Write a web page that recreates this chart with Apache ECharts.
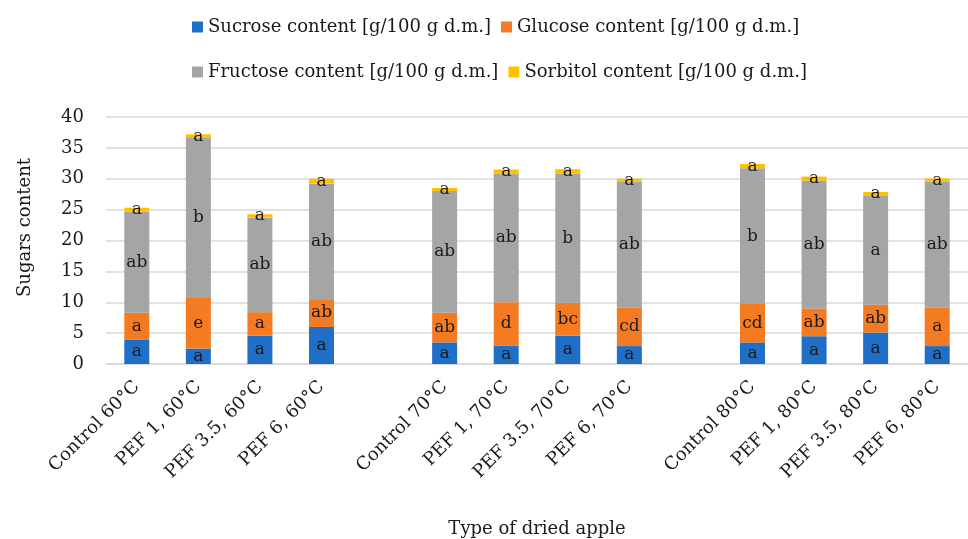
<!DOCTYPE html>
<html>
<head>
<meta charset="utf-8">
<title>Sugars content of dried apple</title>
<script src="https://cdn.jsdelivr.net/npm/echarts@6/dist/echarts.min.js"></script>
<style>
  html, body { margin: 0; padding: 0; background: #ffffff; }
  #chart { width: 968px; height: 539px; }
</style>
</head>
<body>
<div id="chart"></div>
<script>
// Treatments; blank slots separate the 60, 70 and 80 °C groups
var categories = [
  'Control 60\u00b0C', 'PEF 1, 60\u00b0C', 'PEF 3.5, 60\u00b0C', 'PEF 6, 60\u00b0C', ' ',
  'Control 70\u00b0C', 'PEF 1, 70\u00b0C', 'PEF 3.5, 70\u00b0C', 'PEF 6, 70\u00b0C', '  ',
  'Control 80\u00b0C', 'PEF 1, 80\u00b0C', 'PEF 3.5, 80\u00b0C', 'PEF 6, 80\u00b0C'
];

// Sugar contents [g/100 g d.m.]
var sucrose  = [3.9, 2.5, 4.6, 6.0, null, 3.5, 3.0, 4.6, 2.9, null, 3.5, 4.5, 5.1, 2.9];
var glucose  = [4.4, 8.2, 3.8, 4.5, null, 4.8, 7.0, 5.3, 6.2, null, 6.2, 4.5, 4.5, 6.2];
var fructose = [16.4, 25.9, 15.3, 18.7, null, 19.7, 20.8, 20.9, 20.4, null, 22.0, 20.7, 17.6, 20.4];
var sorbitol = [0.6, 0.6, 0.55, 0.8, null, 0.5, 0.7, 0.75, 0.5, null, 0.7, 0.65, 0.65, 0.55];

// Homogeneous groups (significance letters)
var sucroseLetters  = ['a', 'a', 'a', 'a', '', 'a', 'a', 'a', 'a', '', 'a', 'a', 'a', 'a'];
var glucoseLetters  = ['a', 'e', 'a', 'ab', '', 'ab', 'd', 'bc', 'cd', '', 'cd', 'ab', 'ab', 'a'];
var fructoseLetters = ['ab', 'b', 'ab', 'ab', '', 'ab', 'ab', 'b', 'ab', '', 'b', 'ab', 'a', 'ab'];
var sorbitolLetters = ['a', 'a', 'a', 'a', '', 'a', 'a', 'a', 'a', '', 'a', 'a', 'a', 'a'];

var seriesNames = [
  'Sucrose content [g/100 g d.m.]',
  'Glucose content [g/100 g d.m.]',
  'Fructose content [g/100 g d.m.]',
  'Sorbitol content [g/100 g d.m.]'
];

var FONT = 'DejaVu Serif';
var TEXT = '#1a1a1a';
var SIZE = 18;

function stackedBar(name, values, letters, color, offsetY) {
  return {
    name: name,
    type: 'bar',
    stack: 'sugars',
    barWidth: 25,
    data: values,
    itemStyle: { color: color },
    label: {
      show: true,
      position: 'inside',
      offset: [0, offsetY],
      color: TEXT,
      fontFamily: FONT,
      fontSize: 17,
      formatter: function (p) { return letters[p.dataIndex] || ''; }
    },
    labelLayout: { hideOverlap: false }
  };
}

var chart = echarts.init(document.getElementById('chart'), null, { renderer: 'canvas' });

var legendCommon = {
  left: 187,
  orient: 'horizontal',
  icon: 'rect',
  itemWidth: 11,
  itemHeight: 11,
  itemGap: 10,
  itemStyle: { borderWidth: 0 },
  textStyle: { fontFamily: FONT, fontSize: SIZE, color: TEXT },
  selectedMode: false
};

chart.setOption({
  animation: false,
  backgroundColor: '#ffffff',
  textStyle: { fontFamily: FONT },
  legend: [
    Object.assign({}, legendCommon, { top: 13, data: [seriesNames[0], seriesNames[1]] }),
    Object.assign({}, legendCommon, { top: 58, data: [seriesNames[2], seriesNames[3]] })
  ],
  grid: { left: 106, top: 117, width: 864, height: 248, containLabel: false },
  xAxis: {
    type: 'category',
    data: categories,
    name: 'Type of dried apple',
    nameLocation: 'middle',
    nameGap: 156,
    nameTextStyle: { fontFamily: FONT, fontSize: SIZE, color: TEXT },
    axisLine: { lineStyle: { color: '#d9d9d9', width: 1.5 } },
    axisTick: { show: false },
    axisLabel: {
      interval: 0,
      rotate: 45,
      margin: 20,
      fontFamily: FONT,
      fontSize: SIZE,
      color: TEXT
    }
  },
  yAxis: {
    type: 'value',
    min: 0,
    max: 40,
    interval: 5,
    name: 'Sugars content',
    nameLocation: 'middle',
    nameGap: 72,
    nameTextStyle: { fontFamily: FONT, fontSize: SIZE, color: TEXT, padding: [0, 0, 0, 26] },
    axisLine: { show: false },
    axisTick: { show: false },
    axisLabel: { margin: 22, fontFamily: FONT, fontSize: SIZE, color: TEXT },
    splitLine: { lineStyle: { color: '#d9d9d9', width: 1.5 } }
  },
  series: [
    stackedBar(seriesNames[0], sucrose, sucroseLetters, '#1f6fc6', 0),
    stackedBar(seriesNames[1], glucose, glucoseLetters, '#f47b22', 0),
    stackedBar(seriesNames[2], fructose, fructoseLetters, '#a5a5a5', 3),
    stackedBar(seriesNames[3], sorbitol, sorbitolLetters, '#ffc000', 3)
  ]
});
</script>
</body>
</html>
